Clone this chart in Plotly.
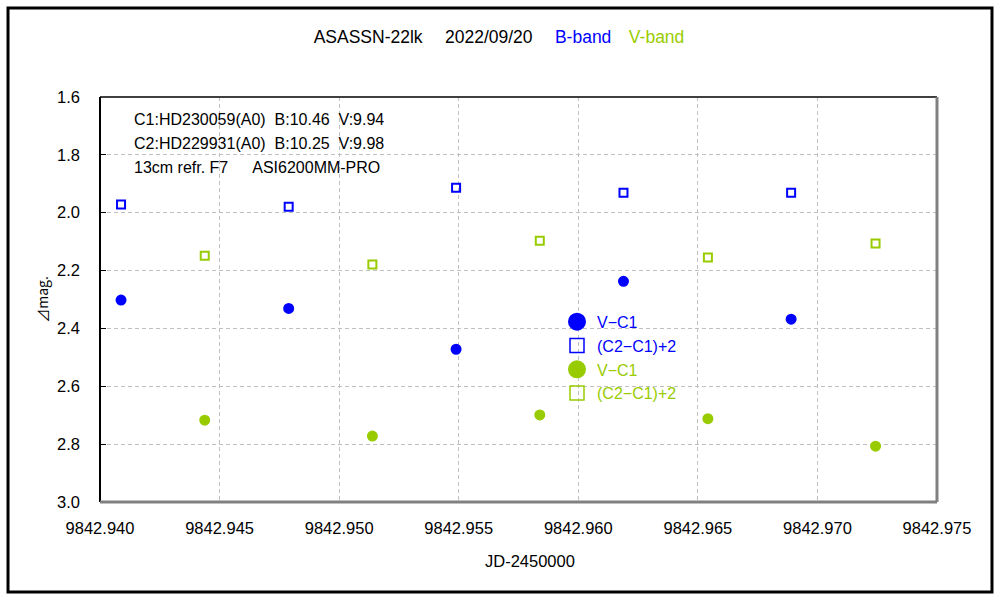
from plotly import graph_objects as go

# JD-2450000 and delta-mag values
jd_b = [9842.94088, 9842.94789, 9842.95489, 9842.96189, 9842.96890]
jd_v = [9842.94438, 9842.95139, 9842.95839, 9842.96542, 9842.97243]

b_var = [2.302, 2.331, 2.472, 2.237, 2.368]
b_check = [1.972, 1.979, 1.914, 1.931, 1.931]
v_var = [2.717, 2.772, 2.699, 2.712, 2.807]
v_check = [2.149, 2.179, 2.097, 2.155, 2.106]

legend_names = ['V\u2212C1', '(C2\u2212C1)+2', 'V\u2212C1', '(C2\u2212C1)+2']

BLUE = '#0000FF'
GREEN = '#99CC00'
FONT = 'Liberation Sans'

fig = go.Figure()

series = [
    (jd_b, b_var, 'circle', BLUE),
    (jd_b, b_check, 'square-open', BLUE),
    (jd_v, v_var, 'circle', GREEN),
    (jd_v, v_check, 'square-open', GREEN),
]

# the data points (legend drawn separately with bigger symbols)
for x, y, sym, col in series:
    size = 9 if sym == 'circle' else 8
    fig.add_trace(go.Scatter(
        x=x, y=y, mode='markers', showlegend=False,
        marker=dict(symbol=sym, size=size, color=col, line=dict(width=2, color=col))
    ))

# legend entries only
for (x, y, sym, col), name in zip(series, legend_names):
    fig.add_trace(go.Scatter(
        x=[None], y=[None], mode='markers',
        name='<span style="color:%s">%s</span>' % (col, name),
        marker=dict(symbol=sym, size=16 if sym == 'circle' else 14, color=col,
                    line=dict(width=2 if sym == 'circle' else 1.5, color=col))
    ))

fig.update_layout(
    width=1000,
    height=600,
    paper_bgcolor='white',
    plot_bgcolor='white',
    font=dict(family=FONT, size=16.5, color='black'),
    margin=dict(l=100, r=63, t=97, b=98),
    title=dict(
        text='ASASSN-22lk\u2003 2022/09/20\u2003 <span style="color:#0000FF">B-band</span>\u2003'
             '<span style="color:#99CC00">V-band</span>',
        x=0.499, xanchor='center', y=0.938, yanchor='middle',
        font=dict(family=FONT, size=17.5, color='black')
    ),
    legend=dict(
        x=0.546, y=0.487, xanchor='left', yanchor='top',
        bgcolor='rgba(0,0,0,0)', font=dict(family=FONT, size=16),
        tracegroupgap=0
    ),
    xaxis=dict(
        range=[9842.940, 9842.975], dtick=0.005, tick0=9842.940, tickformat='.3f',
        showgrid=True, gridcolor='#c0c0c0', griddash='4px,3px', gridwidth=1,
        zeroline=False, showline=False, ticks='', ticklabelstandoff=14,
    ),
    xaxis2=dict(
        matches='x', overlaying='x', side='top', anchor='y',
        range=[9842.940, 9842.975], dtick=0.005, tick0=9842.940,
        showticklabels=False, showgrid=False, zeroline=False,
        ticks='inside', ticklen=5, tickcolor='black'
    ),
    yaxis=dict(
        range=[3.0, 1.6], dtick=0.2, tick0=1.6, tickformat='.1f',
        showgrid=True, gridcolor='#c0c0c0', griddash='4px,3px', gridwidth=1,
        zeroline=False, showline=False, ticks='inside', ticklen=6, tickcolor='black',
        ticklabelstandoff=19,
        title=dict(text='\u22bfmag.', standoff=5,
                   font=dict(family='Noto Sans CJK JP', size=14))
    ),
)

# plot frame: top/left black, bottom/right gray
fig.add_shape(type='line', xref='paper', yref='paper', x0=0, x1=1, y0=1, y1=1,
              line=dict(color='#404040', width=2))
fig.add_shape(type='line', xref='paper', yref='paper', x0=0, x1=0, y0=0, y1=1,
              line=dict(color='black', width=2))
fig.add_shape(type='line', xref='paper', yref='paper', x0=0, x1=1, y0=0, y1=0,
              line=dict(color='#808080', width=3))
fig.add_shape(type='line', xref='paper', yref='paper', x0=1, x1=1, y0=0, y1=1,
              line=dict(color='#808080', width=3))

# outer border of the image
fig.add_shape(type='rect', xref='paper', yref='paper',
              x0=-0.1099, x1=1.0657, y0=-0.2222, y1=1.2198,
              line=dict(color='black', width=3))

# x axis title
fig.add_annotation(text='JD-2450000', xref='paper', yref='paper', x=0.514, y=-0.146,
                   xanchor='center', yanchor='middle', showarrow=False,
                   font=dict(family=FONT, size=16.5, color='black'))

# comparison star notes
notes = [
    'C1:HD230059(A0)  B:10.46  V:9.94',
    'C2:HD229931(A0)  B:10.25  V:9.98',
    '13cm refr. F7\u2003\u2002ASI6200MM-PRO',
]
for i, t in enumerate(notes):
    fig.add_annotation(
        text=t, xref='paper', yref='paper', x=0.038, y=0.945 - i * 0.06,
        xanchor='left', yanchor='middle', showarrow=False,
        font=dict(family=FONT, size=16, color='black')
    )

fig.write_html("out.html", config={'displayModeBar': False},
               post_script="document.body.style.margin='0px';")
